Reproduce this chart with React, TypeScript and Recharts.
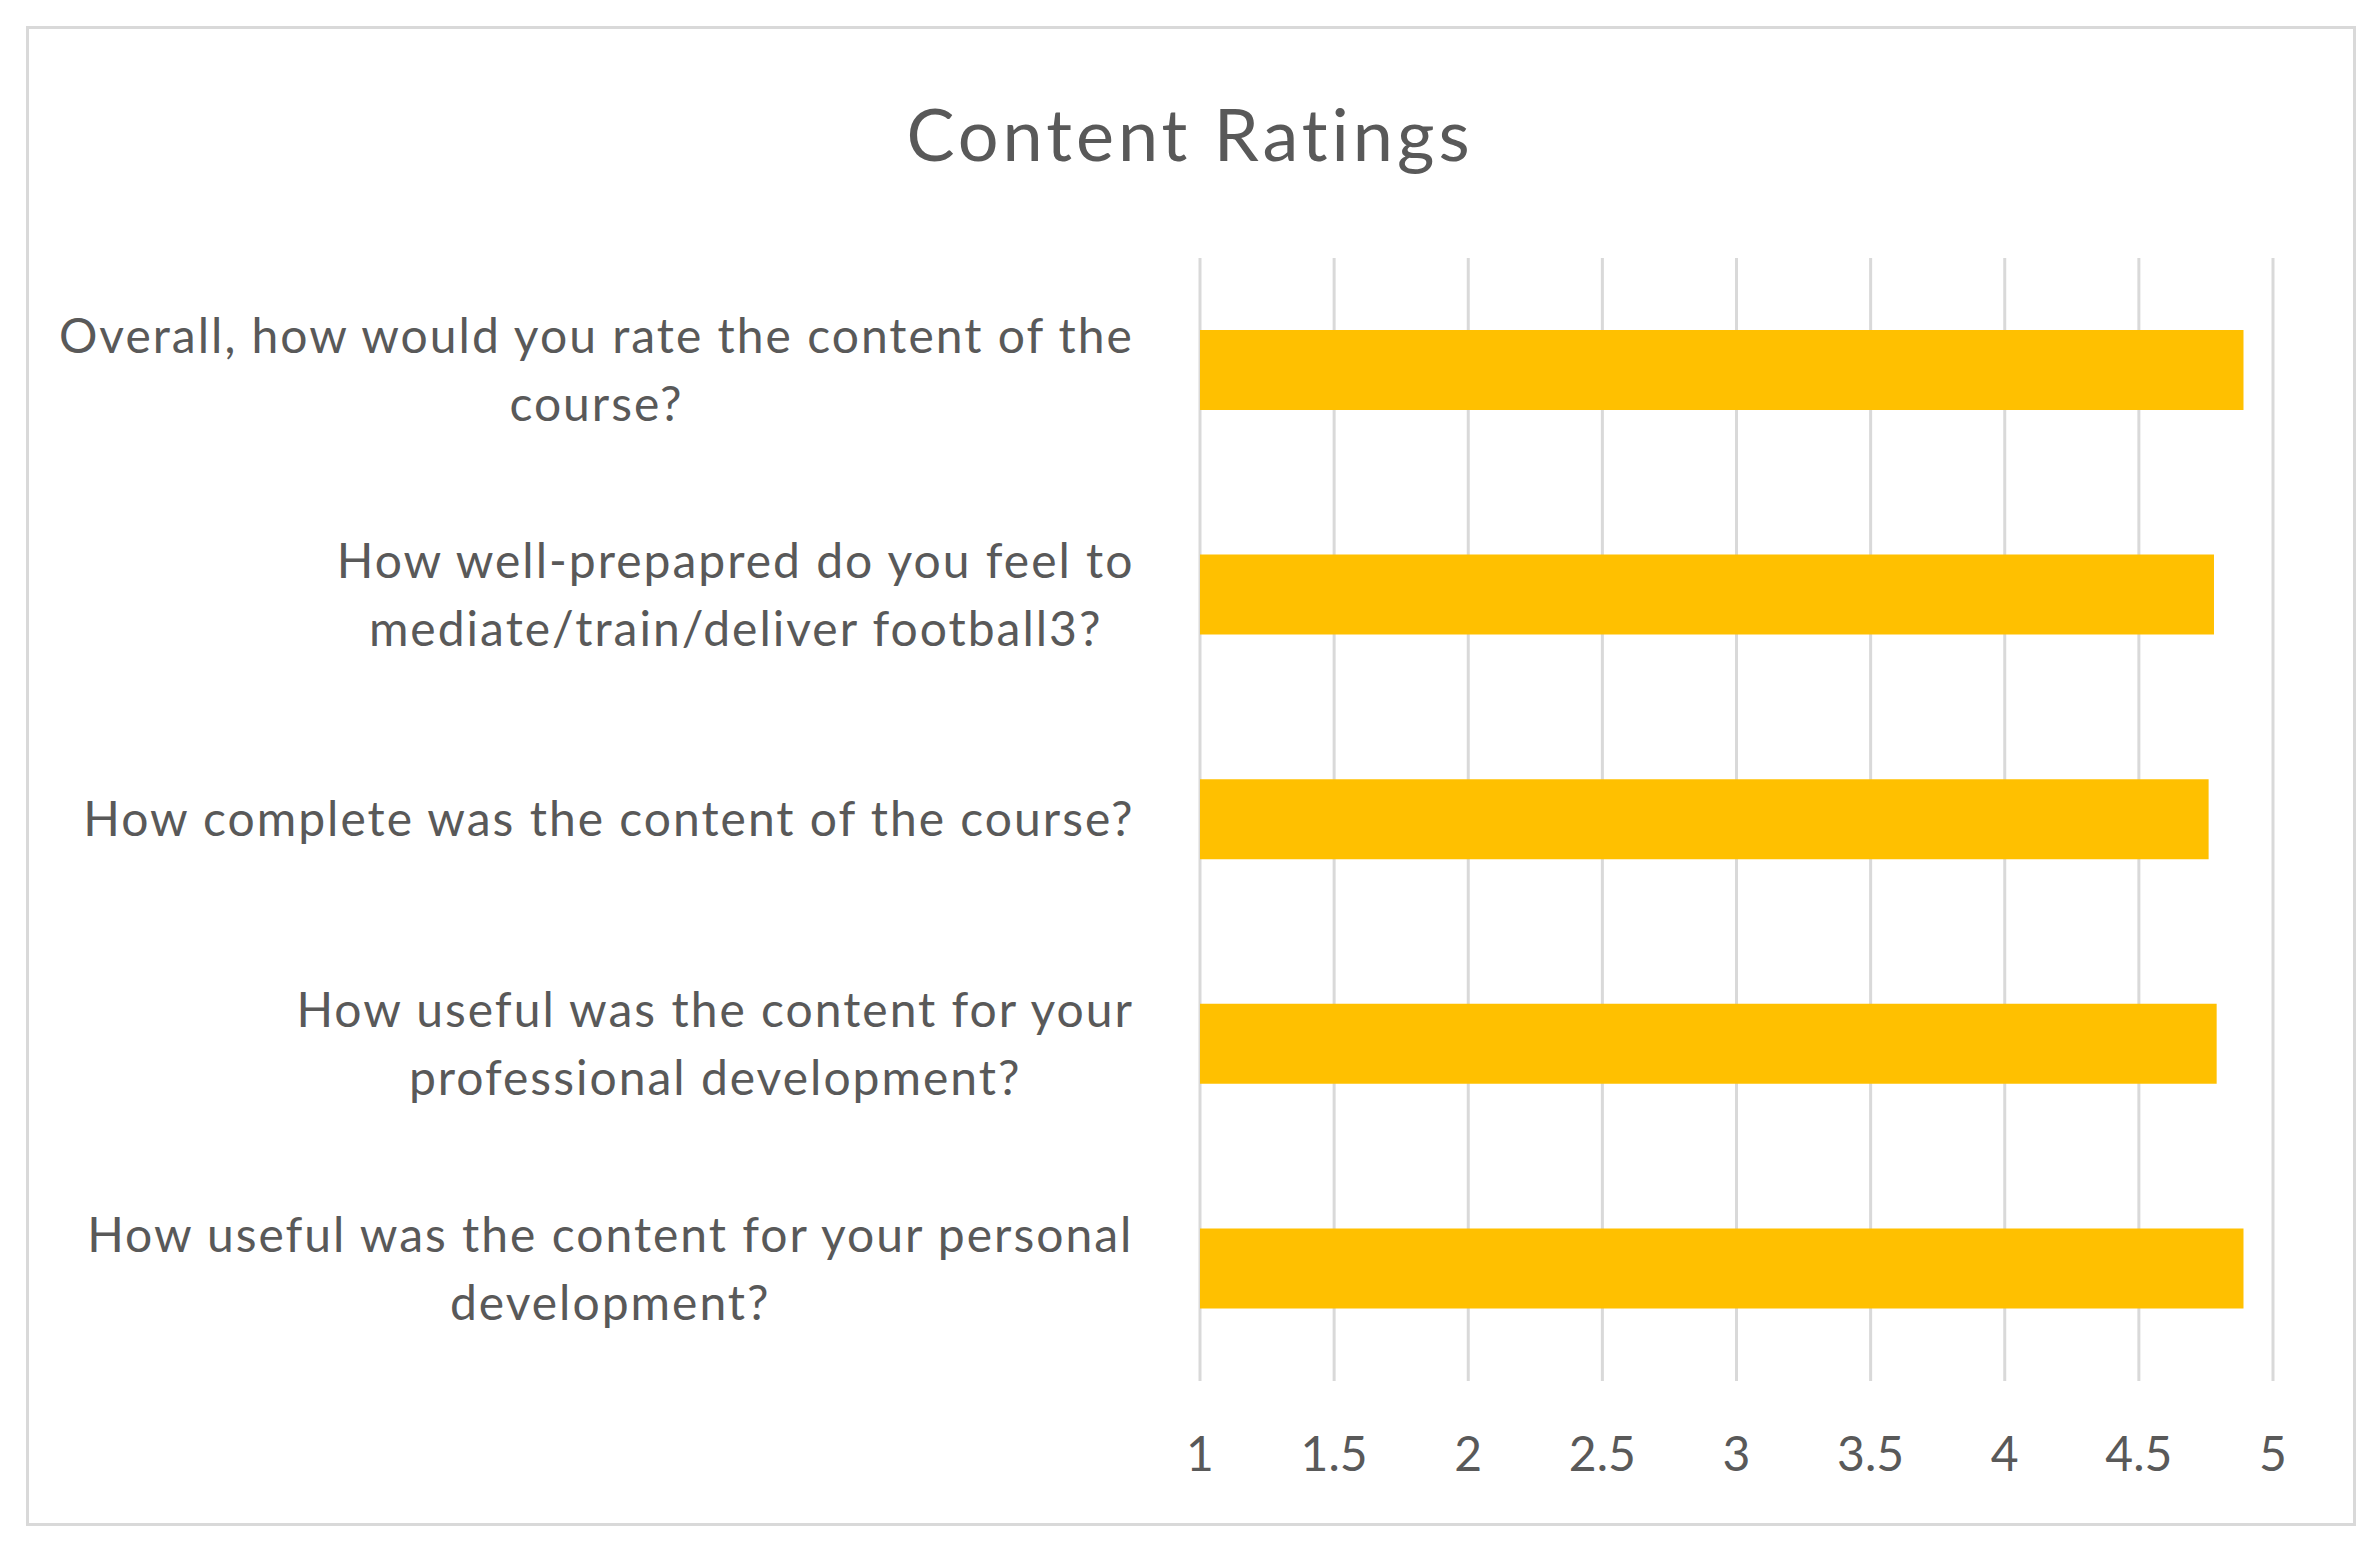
import { Bar, BarChart, CartesianGrid, XAxis, YAxis } from 'recharts';

const TITLE = 'Content Ratings';
const QUESTIONS = [
  'Overall, how would you rate the content of the\ncourse?',
  'How well-prepapred do you feel to\nmediate/train/deliver football3?',
  'How complete was the content of the course?',
  'How useful was the content for your\nprofessional development?',
  'How useful was the content for your personal\ndevelopment?',
];
const RATINGS = [4.89, 4.78, 4.76, 4.79, 4.89];
const X_TICKS = [1, 1.5, 2, 2.5, 3, 3.5, 4, 4.5, 5];

const BAR_COLOR = '#FFC000';
const TEXT_COLOR = '#595959';
const GRID_COLOR = '#d9d9d9';
const FONT = 'Lato, "Open Sans", sans-serif';
const LABEL_SIZE = 48;
const LABEL_SPACING = 2;
const LINE_H = 68;

const data = QUESTIONS.map((question, i) => ({ question, rating: RATINGS[i] }));

const canvas = typeof document !== 'undefined' ? document.createElement('canvas') : null;
function textWidth(s: string): number {
  const ctx = canvas?.getContext('2d');
  if (!ctx) return s.length * LABEL_SIZE * 0.5;
  ctx.font = `${LABEL_SIZE}px ${FONT}`;
  return ctx.measureText(s).width + s.length * LABEL_SPACING;
}

function QuestionTick({ x, y, payload }: any) {
  const lines = String(payload.value).split('\n');
  const blockW = Math.max(...lines.map(textWidth));
  const cx = x - blockW / 2;
  const top = y - ((lines.length - 1) * LINE_H) / 2;
  return (
    <text
      x={cx}
      textAnchor="middle"
      fill={TEXT_COLOR}
      fontSize={LABEL_SIZE}
      fontFamily={FONT}
      letterSpacing={LABEL_SPACING}
    >
      {lines.map((line, i) => (
        <tspan key={i} x={cx} y={top + i * LINE_H} dy="0.35em">
          {line}
        </tspan>
      ))}
    </text>
  );
}

function ValueTick({ x, y, payload }: any) {
  return (
    <text x={x} y={y} dy="0.35em" textAnchor="middle" fill={TEXT_COLOR} fontSize={LABEL_SIZE} fontFamily={FONT}>
      {payload.value}
    </text>
  );
}

export default function App() {
  return (
    <div style={{ position: 'absolute', left: 0, top: 0, width: 2380, height: 1554, background: '#fff' }}>
      <div
        style={{
          position: 'absolute',
          left: 26,
          top: 26,
          width: 2330,
          height: 1500,
          border: `3px solid ${GRID_COLOR}`,
          boxSizing: 'border-box',
        }}
      />
      <div
        style={{
          position: 'absolute',
          left: 0,
          width: 2380,
          top: 89,
          textAlign: 'center',
          fontFamily: FONT,
          fontSize: 72,
          letterSpacing: 4,
          lineHeight: '88px',
          color: TEXT_COLOR,
        }}
      >
        {TITLE}
      </div>
      <BarChart
        width={2380}
        height={1554}
        data={data}
        layout="vertical"
        margin={{ top: 258, right: 107, bottom: 93, left: 0 }}
        style={{ position: 'absolute', left: 0, top: 0 }}
      >
        <CartesianGrid horizontal={false} stroke={GRID_COLOR} strokeWidth={3} />
        <XAxis
          type="number"
          domain={[1, 5]}
          ticks={X_TICKS}
          height={80}
          axisLine={false}
          tickLine={false}
          tickSize={0}
          tickMargin={73}
          tick={<ValueTick />}
          interval={0}
        />
        <YAxis
          type="category"
          dataKey="question"
          width={1200}
          axisLine={false}
          tickLine={false}
          tickSize={0}
          tickMargin={64}
          tick={<QuestionTick />}
          interval={0}
        />
        <Bar dataKey="rating" fill={BAR_COLOR} barSize={80} isAnimationActive={false} />
      </BarChart>
    </div>
  );
}
